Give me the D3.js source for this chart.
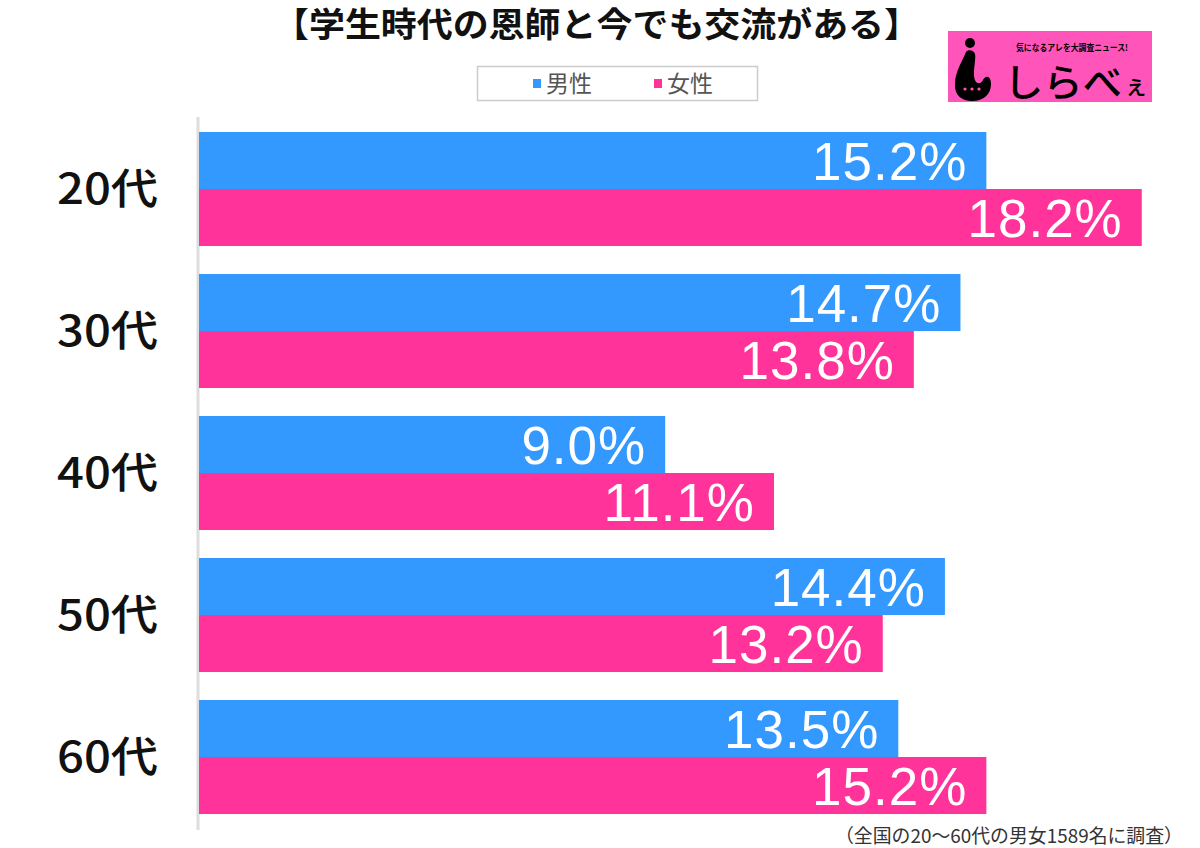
<!DOCTYPE html>
<html><head><meta charset="utf-8">
<script src="https://cdn.jsdelivr.net/npm/d3@7"></script>
<style>body{margin:0;background:#fff}svg{display:block}</style>
</head><body>
<script>
const title = "【学生時代の恩師と今でも交流がある】";
const categories = ["20代","30代","40代","50代","60代"];
const seriesNames = ["男性","女性"];
const maleValues = [15.2,14.7,9.0,14.4,13.5];
const femaleValues = [18.2,13.8,11.1,13.2,15.2];
const colors = ["#3399ff","#ff3399"];
const footnote = "（全国の20～60代の男女1589名に調査）";

const W=1200,H=848;
const svg=d3.select("body").append("svg").attr("width",W).attr("height",H);

const x=d3.scaleLinear().domain([0,20]).range([199,1235]);
const y=d3.scaleBand().domain(categories).range([118,828]).paddingInner(0.197).paddingOuter(0.0985);
const sub=d3.scaleBand().domain([0,1]).range([0,y.bandwidth()]);

const jp="'Noto Sans CJK JP','Noto Sans',sans-serif";
const num="'Liberation Sans',Arial,sans-serif";

// title
svg.append("text").attr("x",273).attr("y",37)
 .attr("font-family",jp).attr("font-weight",700).attr("font-size",34).attr("fill","#111")
 .attr("textLength",647).attr("lengthAdjust","spacingAndGlyphs").text(title);

// legend
svg.append("rect").attr("x",477.5).attr("y",66.5).attr("width",280).attr("height",34)
 .attr("fill","#fff").attr("stroke","#ccc").attr("stroke-width",1.5);
const legX=[533,654];
seriesNames.forEach((n,i)=>{
  svg.append("rect").attr("x",legX[i]).attr("y",79).attr("width",8).attr("height",9).attr("fill",colors[i]);
  svg.append("text").attr("x",legX[i]+13).attr("y",92).attr("font-family",jp).attr("font-size",23)
   .attr("fill","#555").text(n);
});

// axis line
svg.append("line").attr("x1",198).attr("x2",198).attr("y1",117).attr("y2",830)
 .attr("stroke","#ddd").attr("stroke-width",3);

const data=categories.map((c,i)=>({c,vals:[maleValues[i],femaleValues[i]]}));
const g=svg.selectAll("g.grp").data(data).join("g").attr("class","grp")
 .attr("transform",d=>`translate(0,${y(d.c)})`);
g.selectAll("rect").data(d=>d.vals.map((v,k)=>({v,k}))).join("rect")
 .attr("x",x(0)).attr("y",d=>sub(d.k)).attr("width",d=>x(d.v)-x(0)).attr("height",sub.bandwidth())
 .attr("fill",d=>colors[d.k]);
g.selectAll("text.val").data(d=>d.vals.map((v,k)=>({v,k}))).join("text").attr("class","val")
 .attr("x",d=>x(d.v)-19).attr("y",d=>sub(d.k)+sub.bandwidth()/2+19)
 .attr("text-anchor","end").attr("font-family",num).attr("font-size",53).attr("fill","#fff")
 .attr("letter-spacing",1)
 .text(d=>d.v.toFixed(1)+"%");

// category labels
svg.selectAll("text.cat").data(categories).join("text").attr("class","cat")
 .attr("x",57).attr("y",d=>y(d)+y.bandwidth()/2+15)
 .attr("font-family",jp).attr("font-weight",500).attr("font-size",42).attr("fill","#111")
 .attr("textLength",101).attr("lengthAdjust","spacingAndGlyphs")
 .text(d=>d);

// footnote
svg.append("text").attr("x",835).attr("y",843)
 .attr("font-family",jp).attr("font-size",19).attr("fill","#333")
 .attr("textLength",348).attr("lengthAdjust","spacingAndGlyphs").text(footnote);

// logo
const lg=svg.append("g");
lg.append("rect").attr("x",948).attr("y",31).attr("width",204).attr("height",71).attr("fill","#ff55bb");
lg.append("circle").attr("cx",970).attr("cy",43).attr("r",5).attr("fill","#000");
lg.append("path").attr("d","M966,52 C962,62 955,72 955,84 C954,95 962,101 972,101 C984,101 991,94 991,84 C991,79 989,76 986,77 C983,78 983,82 980,83 C976,84 974,80 974,74 C974,66 976,58 975,54 C974,50 968,49 966,52 Z").attr("fill","#000");
[965,972,979].forEach(cx=>lg.append("circle").attr("cx",cx).attr("cy",89).attr("r",1.6).attr("fill","#ff55bb"));
lg.append("text").attr("x",1016).attr("y",51).attr("font-family",jp).attr("font-weight",700)
 .attr("font-size",9).attr("fill","#000").attr("textLength",112).attr("lengthAdjust","spacingAndGlyphs")
 .text("気になるアレを大調査ニュース!");
lg.append("text").attr("x",1004).attr("y",96).attr("font-family",jp).attr("font-weight",500)
 .attr("font-size",38).attr("fill","#000").attr("textLength",118).attr("lengthAdjust","spacingAndGlyphs").text("しらべ");
lg.append("text").attr("x",1124).attr("y",94).attr("font-family",jp).attr("font-weight",500)
 .attr("font-size",24).attr("fill","#000").text("ぇ");
</script>
</body></html>
